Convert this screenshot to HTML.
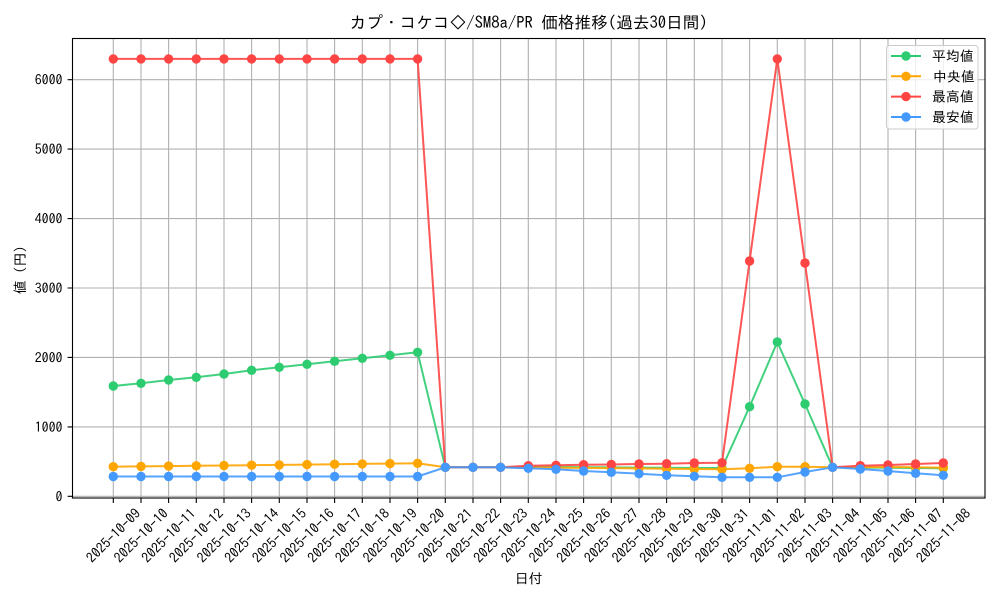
<!DOCTYPE html>
<html>
<head>
<meta charset="utf-8">
<style>
html,body{margin:0;padding:0;background:#fff;}
svg{display:block;}
text{font-family:"IPAGothic","Liberation Sans","Noto Sans CJK JP",sans-serif;fill:#000;}
</style>
</head>
<body>
<svg width="1000" height="600" viewBox="0 0 1000 600" xmlns="http://www.w3.org/2000/svg">
<defs>
<marker id="mg" viewBox="-5 -5 10 10" markerUnits="userSpaceOnUse" markerWidth="10" markerHeight="10" refX="0" refY="0"><circle r="4.7" fill="#2ecc71"/></marker>
<marker id="mo" viewBox="-5 -5 10 10" markerUnits="userSpaceOnUse" markerWidth="10" markerHeight="10" refX="0" refY="0"><circle r="4.7" fill="#ffa500"/></marker>
<marker id="mr" viewBox="-5 -5 10 10" markerUnits="userSpaceOnUse" markerWidth="10" markerHeight="10" refX="0" refY="0"><circle r="4.7" fill="#ff4444"/></marker>
<marker id="mb" viewBox="-5 -5 10 10" markerUnits="userSpaceOnUse" markerWidth="10" markerHeight="10" refX="0" refY="0"><circle r="4.7" fill="#4499ff"/></marker>
</defs>
<rect x="0" y="0" width="1000" height="600" fill="#fff"/>

<!-- grid -->
<g stroke="#b0b0b0" stroke-width="1.1" fill="none">
<path d="M113.3 38.5V498M141 38.5V498M168.6 38.5V498M196.3 38.5V498M224 38.5V498M251.6 38.5V498M279.3 38.5V498M307 38.5V498M334.6 38.5V498M362.3 38.5V498M390 38.5V498M417.6 38.5V498M445.3 38.5V498M473 38.5V498M500.6 38.5V498M528.3 38.5V498M556 38.5V498M583.6 38.5V498M611.3 38.5V498M639 38.5V498M666.6 38.5V498M694.3 38.5V498M722 38.5V498M749.6 38.5V498M777.3 38.5V498M805 38.5V498M832.6 38.5V498M860.3 38.5V498M888 38.5V498M915.6 38.5V498M943.3 38.5V498"/>
<path d="M72.5 496.3H985M72.5 426.9H985M72.5 357.4H985M72.5 288H985M72.5 218.6H985M72.5 149.1H985M72.5 79.7H985"/>
</g>

<!-- series -->
<g fill="none" stroke-width="2" stroke-linejoin="round" stroke-opacity="0.9">
<polyline stroke="#2ecc71" marker-start="url(#mg)" marker-mid="url(#mg)" marker-end="url(#mg)" points="113.3,386 141,383.3 168.6,380 196.3,377.3 224,374 251.6,370.3 279.3,367.3 307,364.3 334.6,361.3 362.3,358.3 390,355.3 417.6,352.3 445.3,467.3 473,467.3 500.6,467.3 528.3,467 556,467 583.6,467.2 611.3,467.4 639,467.6 666.6,467.8 694.3,468 722,468 749.6,406.7 777.3,342 805,404 832.6,467.3 860.3,467.5 888,467.8 915.6,468 943.3,468.3"/>
<polyline stroke="#ffa500" marker-start="url(#mo)" marker-mid="url(#mo)" marker-end="url(#mo)" points="113.3,466.7 141,466.4 168.6,466.1 196.3,465.8 224,465.5 251.6,465.2 279.3,464.9 307,464.6 334.6,464.2 362.3,463.9 390,463.6 417.6,463.3 445.3,467.3 473,467.3 500.6,467.3 528.3,467.5 556,467.7 583.6,467.9 611.3,468.1 639,468.4 666.6,468.7 694.3,469 722,469.3 749.6,468.3 777.3,466.7 805,466.7 832.6,467.3 860.3,467.3 888,467 915.6,467.3 943.3,467.7"/>
<polyline stroke="#ff4444" marker-start="url(#mr)" marker-mid="url(#mr)" marker-end="url(#mr)" points="113.3,58.9 141,58.9 168.6,58.9 196.3,58.9 224,58.9 251.6,58.9 279.3,58.9 307,58.9 334.6,58.9 362.3,58.9 390,58.9 417.6,58.9 445.3,467.3 473,467.3 500.6,467.3 528.3,465.7 556,465.3 583.6,464.7 611.3,464.5 639,464 666.6,463.7 694.3,463 722,462.7 749.6,261 777.3,58.9 805,263 832.6,467.3 860.3,465.7 888,465 915.6,464 943.3,463"/>
<polyline stroke="#4499ff" marker-start="url(#mb)" marker-mid="url(#mb)" marker-end="url(#mb)" points="113.3,476.5 141,476.5 168.6,476.5 196.3,476.5 224,476.5 251.6,476.5 279.3,476.5 307,476.5 334.6,476.5 362.3,476.5 390,476.5 417.6,476.5 445.3,467.3 473,467.3 500.6,467.3 528.3,468.3 556,469.3 583.6,471 611.3,472.3 639,473.7 666.6,475.3 694.3,476.3 722,477.3 749.6,477.3 777.3,477.3 805,472 832.6,467.3 860.3,469 888,471 915.6,473.3 943.3,475.3"/>
</g>

<!-- spines -->
<rect x="72.5" y="38.5" width="912.5" height="459.5" fill="none" stroke="#000" stroke-width="1.1"/>

<!-- ticks -->
<g stroke="#000" stroke-width="1.1">
<path d="M113.3 498V503M141 498V503M168.6 498V503M196.3 498V503M224 498V503M251.6 498V503M279.3 498V503M307 498V503M334.6 498V503M362.3 498V503M390 498V503M417.6 498V503M445.3 498V503M473 498V503M500.6 498V503M528.3 498V503M556 498V503M583.6 498V503M611.3 498V503M639 498V503M666.6 498V503M694.3 498V503M722 498V503M749.6 498V503M777.3 498V503M805 498V503M832.6 498V503M860.3 498V503M888 498V503M915.6 498V503M943.3 498V503"/>
<path d="M67.6 496.3H72.5M67.6 426.9H72.5M67.6 357.4H72.5M67.6 288H72.5M67.6 218.6H72.5M67.6 149.1H72.5M67.6 79.7H72.5"/>
</g>

<!-- y tick labels -->
<g font-size="13.9" text-anchor="end" dominant-baseline="central">
<text x="62.5" y="496.3">0</text>
<text x="62.5" y="426.9">1000</text>
<text x="62.5" y="357.4">2000</text>
<text x="62.5" y="288">3000</text>
<text x="62.5" y="218.6">4000</text>
<text x="62.5" y="149.1">5000</text>
<text x="62.5" y="79.7">6000</text>
</g>

<!-- x tick labels -->
<g font-size="13.9" text-anchor="middle" dominant-baseline="central">
<text transform="translate(113.3,535.5) rotate(-45)">2025-10-09</text>
<text transform="translate(141,535.5) rotate(-45)">2025-10-10</text>
<text transform="translate(168.6,535.5) rotate(-45)">2025-10-11</text>
<text transform="translate(196.3,535.5) rotate(-45)">2025-10-12</text>
<text transform="translate(224,535.5) rotate(-45)">2025-10-13</text>
<text transform="translate(251.6,535.5) rotate(-45)">2025-10-14</text>
<text transform="translate(279.3,535.5) rotate(-45)">2025-10-15</text>
<text transform="translate(307,535.5) rotate(-45)">2025-10-16</text>
<text transform="translate(334.6,535.5) rotate(-45)">2025-10-17</text>
<text transform="translate(362.3,535.5) rotate(-45)">2025-10-18</text>
<text transform="translate(390,535.5) rotate(-45)">2025-10-19</text>
<text transform="translate(417.6,535.5) rotate(-45)">2025-10-20</text>
<text transform="translate(445.3,535.5) rotate(-45)">2025-10-21</text>
<text transform="translate(473,535.5) rotate(-45)">2025-10-22</text>
<text transform="translate(500.6,535.5) rotate(-45)">2025-10-23</text>
<text transform="translate(528.3,535.5) rotate(-45)">2025-10-24</text>
<text transform="translate(556,535.5) rotate(-45)">2025-10-25</text>
<text transform="translate(583.6,535.5) rotate(-45)">2025-10-26</text>
<text transform="translate(611.3,535.5) rotate(-45)">2025-10-27</text>
<text transform="translate(639,535.5) rotate(-45)">2025-10-28</text>
<text transform="translate(666.6,535.5) rotate(-45)">2025-10-29</text>
<text transform="translate(694.3,535.5) rotate(-45)">2025-10-30</text>
<text transform="translate(722,535.5) rotate(-45)">2025-10-31</text>
<text transform="translate(749.6,535.5) rotate(-45)">2025-11-01</text>
<text transform="translate(777.3,535.5) rotate(-45)">2025-11-02</text>
<text transform="translate(805,535.5) rotate(-45)">2025-11-03</text>
<text transform="translate(832.6,535.5) rotate(-45)">2025-11-04</text>
<text transform="translate(860.3,535.5) rotate(-45)">2025-11-05</text>
<text transform="translate(888,535.5) rotate(-45)">2025-11-06</text>
<text transform="translate(915.6,535.5) rotate(-45)">2025-11-07</text>
<text transform="translate(943.3,535.5) rotate(-45)">2025-11-08</text>
</g>

<!-- axis labels & title -->
<text x="528.7" y="578.5" font-size="13.9" text-anchor="middle" dominant-baseline="central">日付</text>
<text transform="translate(20,270) rotate(-90)" font-size="13.9" text-anchor="middle" dominant-baseline="central">値 (円)</text>
<text x="528.7" y="23" font-size="16.67" text-anchor="middle" dominant-baseline="central">カプ・コケコ◇/SM8a/PR 価格推移(過去30日間)</text>

<!-- legend -->
<rect x="886.5" y="45.5" width="91.5" height="83.5" rx="3" ry="3" fill="#fff" fill-opacity="0.8" stroke="#cccccc" stroke-width="1"/>
<g stroke-width="2" fill="none">
<path d="M891 56H921" stroke="#2ecc71"/>
<path d="M891 76.3H921" stroke="#ffa500"/>
<path d="M891 96.6H921" stroke="#ff4444"/>
<path d="M891 117H921" stroke="#4499ff"/>
</g>
<circle cx="906" cy="56" r="4.7" fill="#2ecc71"/>
<circle cx="906" cy="76.3" r="4.7" fill="#ffa500"/>
<circle cx="906" cy="96.6" r="4.7" fill="#ff4444"/>
<circle cx="906" cy="117" r="4.7" fill="#4499ff"/>
<g font-size="13.9" dominant-baseline="central">
<text x="932" y="56">平均値</text>
<text x="933" y="76.3">中央値</text>
<text x="932" y="96.6">最高値</text>
<text x="932" y="117">最安値</text>
</g>
</svg>
</body>
</html>
